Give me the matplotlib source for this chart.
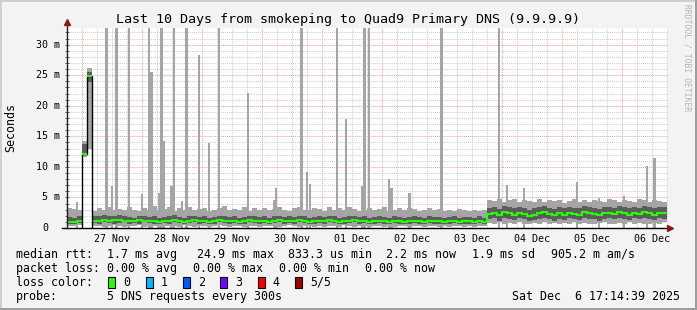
import numpy as np
import matplotlib
matplotlib.use("Agg")
import matplotlib.pyplot as plt
from matplotlib.patches import Rectangle

W, H = 697, 310
MONO = "DejaVu Sans Mono"

# time axis in hours since 26 Nov 00:00, 2 hour bins
bin_start = 17.9
bin_hours = 2.0
x_min, x_max = 17.9, 258.3
y_max = 32.8  # milliseconds

median = [1.0, 1.0, 1.1, 12.1, 24.8, 1.2, 1.2, 1.3, 1.2, 1.3,
          1.3, 1.2, 1.2, 1.1, 1.3, 1.2, 1.1, 1.2, 1.0, 1.1,
          1.2, 1.3, 1.1, 1.0, 1.2, 1.3, 1.1, 1.2, 1.0, 1.1,
          1.3, 1.2, 1.1, 1.2, 1.0, 1.1, 1.3, 1.2, 1.1, 1.2,
          1.0, 1.2, 1.3, 1.1, 1.2, 1.1, 1.3, 1.2, 1.0, 1.1,
          1.2, 1.1, 1.3, 1.2, 1.0, 1.1, 1.2, 1.3, 1.1, 1.2,
          1.0, 1.1, 1.2, 1.1, 1.0, 1.2, 1.1, 1.0, 1.1, 1.2,
          1.1, 1.0, 1.2, 1.1, 1.1, 1.0, 1.1, 1.2, 1.0, 1.1,
          1.1, 1.0, 1.2, 1.0, 2.3, 2.5, 2.1, 2.6, 2.4, 2.2,
          2.5, 2.3, 2.0, 2.2, 2.4, 2.6, 2.3, 2.1, 2.4, 2.2,
          2.5, 2.3, 2.2, 2.6, 2.4, 2.3, 2.1, 2.4, 2.5, 2.3,
          2.6, 2.4, 2.2, 2.5, 2.3, 2.6, 2.4, 2.2, 2.5, 2.4]

smoke_lo = [0.4, 0.3, 0.5, 11.6, 13.0, 0.3, 0.4, 0.2, 0.3, 0.5,
            0.3, 0.2, 0.4, 0.3, 0.5, 0.2, 0.3, 0.4, 0.2, 0.3,
            0.4, 0.3, 0.2, 0.5, 0.3, 0.2, 0.4, 0.3, 0.2, 0.3,
            0.5, 0.3, 0.2, 0.4, 0.3, 0.2, 0.3, 0.4, 0.2, 0.3,
            0.3, 0.4, 0.2, 0.3, 0.5, 0.3, 0.2, 0.4, 0.3, 0.2,
            0.3, 0.2, 0.4, 0.3, 0.2, 0.5, 0.3, 0.2, 0.4, 0.3,
            0.2, 0.3, 0.4, 0.2, 0.3, 0.2, 0.4, 0.3, 0.2, 0.3,
            0.3, 0.2, 0.4, 0.3, 0.2, 0.3, 0.2, 0.4, 0.3, 0.2,
            0.3, 0.2, 0.3, 0.4, 0.8, 0.7, 0.9, 0.6, 0.8, 0.7,
            0.9, 0.7, 0.6, 0.8, 0.7, 0.9, 0.6, 0.8, 0.7, 0.8,
            0.7, 0.9, 0.6, 0.8, 0.7, 0.6, 0.8, 0.9, 0.7, 0.6,
            0.8, 0.7, 0.9, 0.6, 0.8, 0.7, 0.6, 0.8, 0.7, 0.9]

dark_lo = [0.7, 0.6, 0.8, 11.9, 23.9, 0.8, 0.7, 0.9, 0.8, 0.7,
           0.8, 0.9, 0.7, 0.8, 0.7, 0.9, 0.8, 0.7, 0.6, 0.8,
           0.7, 0.9, 0.8, 0.6, 0.8, 0.9, 0.7, 0.8, 0.6, 0.7,
           0.9, 0.8, 0.7, 0.8, 0.6, 0.7, 0.9, 0.8, 0.7, 0.8,
           0.6, 0.8, 0.9, 0.7, 0.8, 0.7, 0.9, 0.8, 0.6, 0.7,
           0.8, 0.7, 0.9, 0.8, 0.6, 0.7, 0.8, 0.9, 0.7, 0.8,
           0.6, 0.7, 0.8, 0.7, 0.6, 0.8, 0.7, 0.6, 0.7, 0.8,
           0.7, 0.6, 0.8, 0.7, 0.7, 0.6, 0.7, 0.8, 0.6, 0.7,
           0.7, 0.6, 0.8, 0.6, 1.4, 1.6, 1.2, 1.7, 1.5, 1.3,
           1.6, 1.4, 1.1, 1.3, 1.5, 1.7, 1.4, 1.2, 1.5, 1.3,
           1.6, 1.4, 1.3, 1.7, 1.5, 1.4, 1.2, 1.5, 1.6, 1.4,
           1.7, 1.5, 1.3, 1.6, 1.4, 1.7, 1.5, 1.3, 1.6, 1.5]

dark_hi = [1.8, 1.7, 1.9, 13.8, 25.6, 1.9, 2.0, 2.1, 1.9, 2.0,
           2.1, 1.9, 1.8, 1.7, 2.0, 1.9, 1.8, 2.0, 1.7, 1.8,
           1.9, 2.1, 1.8, 1.7, 1.9, 2.0, 1.8, 1.9, 1.7, 1.8,
           2.0, 1.9, 1.8, 1.9, 1.7, 1.8, 2.0, 1.9, 1.8, 1.9,
           1.7, 1.9, 2.0, 1.8, 1.9, 1.8, 2.0, 1.9, 1.7, 1.8,
           1.9, 1.8, 2.0, 1.9, 1.7, 1.8, 1.9, 2.0, 1.8, 1.9,
           1.7, 1.8, 1.9, 1.8, 1.7, 1.9, 1.8, 1.7, 1.8, 1.9,
           1.8, 1.7, 1.9, 1.8, 1.8, 1.7, 1.8, 1.9, 1.7, 1.8,
           1.8, 1.7, 1.9, 1.7, 3.3, 3.5, 3.1, 3.6, 3.4, 3.2,
           3.5, 3.3, 3.0, 3.2, 3.4, 3.6, 3.3, 3.1, 3.4, 3.2,
           3.5, 3.3, 3.2, 3.6, 3.4, 3.3, 3.1, 3.4, 3.5, 3.3,
           3.6, 3.4, 3.2, 3.5, 3.3, 3.6, 3.4, 3.2, 3.5, 3.4]

smoke_hi = [3.3, 3.1, 3.0, 14.2, 26.2, 2.8, 3.2, 2.9, 3.4, 3.0,
            3.1, 2.9, 3.5, 3.0, 2.8, 3.3, 3.0, 3.6, 2.9, 3.1,
            3.4, 2.8, 3.2, 3.0, 3.5, 2.9, 3.1, 3.3, 2.8, 3.0,
            3.2, 3.6, 2.9, 3.1, 3.0, 3.4, 2.8, 3.2, 3.0, 3.3,
            2.9, 3.1, 3.5, 3.0, 2.8, 3.2, 3.4, 3.0, 2.9, 3.3,
            3.1, 2.8, 3.4, 3.0, 3.2, 2.9, 3.5, 3.1, 2.8, 3.0,
            3.3, 2.9, 3.1, 3.4, 2.8, 3.0, 3.2, 2.9, 3.3, 3.1,
            2.8, 3.0, 3.2, 2.9, 3.1, 2.7, 3.0, 2.8, 3.1, 2.9,
            2.8, 3.0, 2.7, 2.9, 4.6, 4.4, 4.8, 4.3, 4.5, 4.7,
            4.2, 4.6, 4.4, 4.3, 4.7, 4.2, 4.5, 4.4, 4.6, 4.1,
            4.4, 4.7, 4.3, 4.5, 4.2, 4.6, 4.4, 4.3, 4.8, 4.5,
            4.2, 4.6, 4.4, 4.3, 4.7, 4.5, 4.2, 4.6, 4.4, 4.3]

# single slow pings (hour, ms); 40 = off the top of the graph
spike_hours = [21.95, 33.8, 35.95, 37.8, 42.75, 47.95, 50.9, 51.75, 54.75, 55.8,
               56.55, 59.75, 60.75, 63.95, 65.8, 70.75, 74.75, 78.9, 90.35, 100.75,
               101.55, 111.85, 113.95, 115.15, 126.1, 129.55, 135.95, 136.95, 138.75, 146.75,
               147.75, 154.95, 167.85, 190.75, 193.95, 200.75, 221.95, 230.75, 240.75, 249.95,
               252.95]
spike_tops = [4.3, 40, 6.8, 40, 40, 5.5, 40, 25.5, 5.8, 40,
              14.3, 6.9, 40, 4.4, 40, 28.3, 13.9, 40, 22.1, 4.6,
              6.6, 40, 9.1, 7.2, 40, 17.9, 6.9, 40, 40, 8.0,
              6.6, 5.8, 40, 40, 7.0, 6.6, 7.6, 4.9, 5.3, 10.1,
              11.5]

day_labels = ["27 Nov", "28 Nov", "29 Nov", "30 Nov", "01 Dec",
              "02 Dec", "03 Dec", "04 Dec", "05 Dec", "06 Dec"]
y_ticks = [0, 5, 10, 15, 20, 25, 30]

rtt_items = ["1.7 ms avg", "24.9 ms max", "833.3 us min", "2.2 ms now", "1.9 ms sd", "905.2 m am/s"]
loss_items = ["0.00 % avg", "0.00 % max", "0.00 % min", "0.00 % now"]
loss_labels = ["0", "1", "2", "3", "4", "5/5"]
loss_colors = ["#26ff00", "#00b8ff", "#0059ff", "#7e00ff", "#ff0000", "#a10000"]
probe_text = "5 DNS requests every 300s"
stamp = "Sat Dec  6 17:14:39 2025"

light = "#a5a5a5"
dark = "#5c5c5c"
green = "#26ff00"
red_grid = "#f0a0a0"
grey_grid = "#cccccc"
arrow_col = "#8b1a1a"

fig = plt.figure(figsize=(W / 100, H / 100), dpi=100, facecolor="#f3f3f3")

def fx(px):
    return px / W

def fy(py):
    return 1 - py / H

ax_left, ax_right, ax_top, ax_bottom = 66.7, 667.7, 27.5, 228
ax = fig.add_axes([fx(ax_left), fy(ax_bottom), (ax_right - ax_left) / W, (ax_bottom - ax_top) / H])
ax.set_facecolor("white")
ax.set_xlim(x_min, x_max)
ax.set_ylim(0, y_max)

# grid
for h in np.arange(18, 259, 6):
    c = red_grid if h % 24 == 0 else grey_grid
    ax.axvline(h, color=c, lw=0.7, ls=(0, (1, 1)), zorder=0)
for v in range(1, 33):
    c = red_grid if v % 5 == 0 else grey_grid
    ax.axhline(v, color=c, lw=0.7, ls=(0, (1, 1)), zorder=0)

n = len(median)
edges = bin_start + bin_hours * np.arange(n + 1)
median = np.array(median)

ax.bar(spike_hours, spike_tops, width=1.0, bottom=0, color=light, zorder=1, linewidth=0)
ax.stairs(smoke_hi, edges, baseline=smoke_lo, fill=True, color=light, zorder=2, linewidth=0)
ax.stairs(dark_hi, edges, baseline=dark_lo, fill=True, color=dark, zorder=3, linewidth=0)

# median line, the jump at the start is outlined in black
jump = np.where(median > 10)[0]
j0, j1 = jump[0], jump[-1] + 1
ax.stairs(median[:j0], edges[:j0 + 1], baseline=None, color=green, lw=1.5, zorder=4)
ax.stairs(median[j1:], edges[j1:], baseline=None, color=green, lw=1.5, zorder=4)
ax.stairs(median[j0:j1], edges[j0:j1 + 1], baseline=0, color="black", lw=1.0, zorder=4)
ax.hlines(median[j0:j1], edges[j0:j1], edges[j0 + 1:j1 + 1], color=green, lw=1.5, zorder=5)

for s in ax.spines.values():
    s.set_visible(False)

# axes with arrows
ax.plot([-0.007, 1.0], [0, 0], transform=ax.transAxes, color="black", lw=1, clip_on=False, zorder=6)
ax.plot([0, 0], [0, 1.02], transform=ax.transAxes, color="#202020", lw=1, clip_on=False, zorder=6)
ax.plot([1.004], [0], transform=ax.transAxes, marker=">", ms=4.5, color=arrow_col, clip_on=False, zorder=7)
ax.plot([0], [1.025], transform=ax.transAxes, marker="^", ms=4.5, color=arrow_col, clip_on=False, zorder=7)

noons = [24 * (i + 1) + 12 for i in range(len(day_labels))]
ax.set_xticks(noons, labels=day_labels)
ax.tick_params(axis="x", length=0, pad=4.5, labelsize=7.2)
for t in ax.get_xticklabels():
    t.set_family(MONO)

ax.set_yticks(y_ticks, labels=[""] * len(y_ticks))
ax.set_yticks(range(0, 33), minor=True)
ax.tick_params(axis="y", which="both", direction="inout", length=2.5, width=0.6, color="#505050")
ytr = ax.get_yaxis_transform()
for v in y_ticks:
    lbl = f"{v} m" if v else "0"
    right_px = 60.0 if v else 48.0
    ax.text((right_px - ax_left) / (ax_right - ax_left), v, lbl, transform=ytr,
            ha="right", va="center", fontsize=7.2, family=MONO)

fig.text(fx(348), fy(19), "Last 10 Days from smokeping to Quad9 Primary DNS (9.9.9.9)",
         ha="center", va="center", fontsize=9.6, family=MONO)
fig.text(fx(11), fy(127.7), "Seconds", rotation=90, ha="center", va="center",
         fontsize=8.4, family=MONO)
fig.text(fx(687), fy(4), "RRDTOOL / TOBI OETIKER", rotation=270, ha="center", va="top",
         fontsize=5.8, family=MONO, color="#b4b4b4")

# legend block
row_y = [254.3, 268.3, 282.3, 296.3]
lkw = dict(ha="left", va="center", fontsize=8.4, family=MONO)
for i, head in enumerate(["median rtt:", "packet loss:", "loss color:", "probe:"]):
    fig.text(fx(16), fy(row_y[i]), head, **lkw)
for item, x in zip(rtt_items, [107.3, 196.7, 288, 386, 471.7, 551]):
    fig.text(fx(x), fy(row_y[0]), item, **lkw)
for item, x in zip(loss_items, [107.3, 193.3, 279, 365]):
    fig.text(fx(x), fy(row_y[1]), item, **lkw)
for i, (lbl, col) in enumerate(zip(loss_labels, loss_colors)):
    bx = 108.3 + 37.3 * i
    fig.add_artist(Rectangle((fx(bx), fy(288)), 7 / W, 11 / H, transform=fig.transFigure,
                             facecolor=col, edgecolor="black", lw=0.8))
    fig.text(fx(bx + 15), fy(row_y[2]), lbl, **lkw)
fig.text(fx(107.3), fy(row_y[3]), probe_text, **lkw)
fig.text(fx(680), fy(row_y[3]), stamp, ha="right", va="center", fontsize=8.4, family=MONO)

# bevelled border
fig.add_artist(Rectangle((0, 0), 2 / W, 1, transform=fig.transFigure, color="#cfcfcf", lw=0))
fig.add_artist(Rectangle((0, 1 - 2 / H), 1, 2 / H, transform=fig.transFigure, color="#cfcfcf", lw=0))
fig.add_artist(Rectangle((1 - 2 / W, 0), 2 / W, 1, transform=fig.transFigure, color="#9e9e9e", lw=0))
fig.add_artist(Rectangle((0, 0), 1, 2 / H, transform=fig.transFigure, color="#9e9e9e", lw=0))

fig.savefig("out.png", dpi=100, facecolor=fig.get_facecolor())
